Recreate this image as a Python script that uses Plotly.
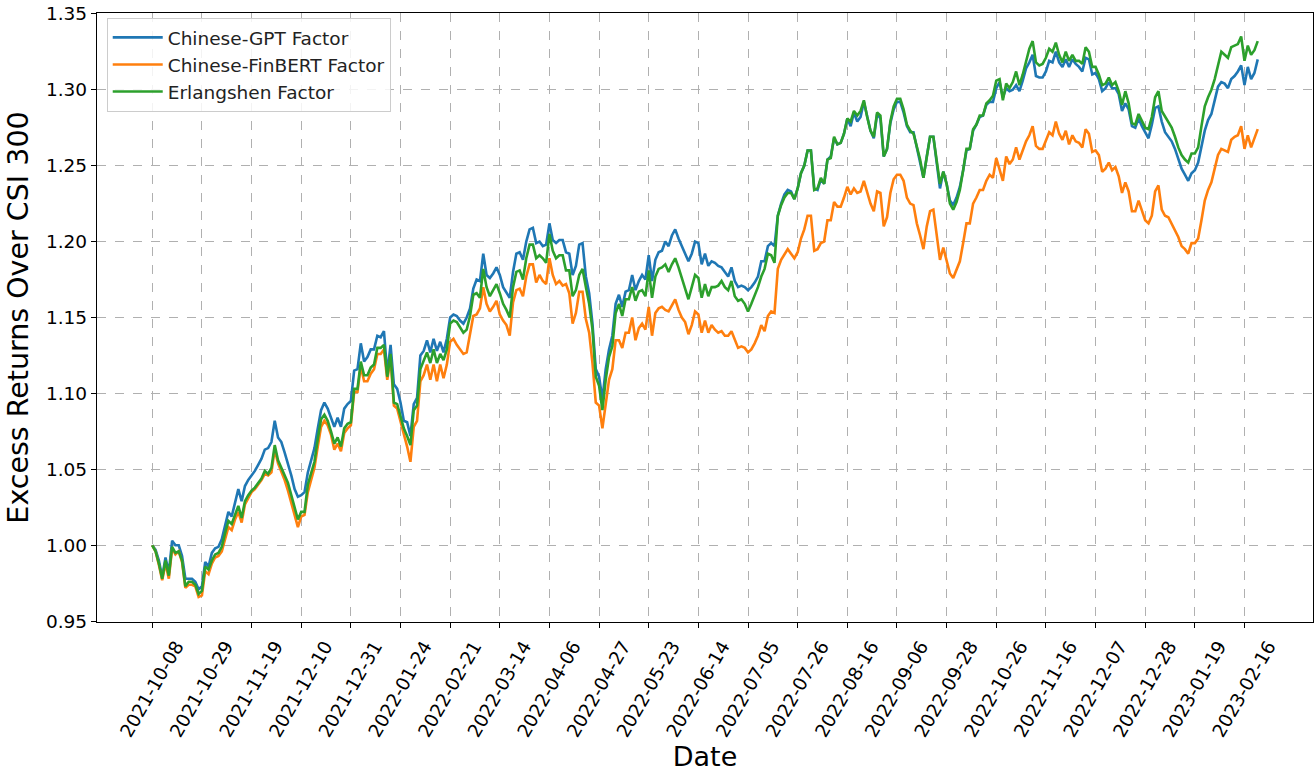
import plotly.graph_objects as go

# Trading-day index (0 = 2021-10-08), one value per trading day
day_index = list(range(335))

gpt_factor = [
1.000,0.997,0.990,0.979,0.992,0.982,1.003,1.000,1.000,0.993,
0.978,0.978,0.978,0.976,0.971,0.973,0.989,0.986,0.995,0.998,
0.999,1.004,1.013,1.022,1.019,1.028,1.037,1.029,1.039,1.043,
1.046,1.049,1.053,1.057,1.063,1.064,1.068,1.082,1.071,1.068,
1.061,1.054,1.046,1.037,1.032,1.033,1.035,1.048,1.057,1.064,
1.077,1.089,1.094,1.090,1.084,1.078,1.084,1.078,1.090,1.093,
1.095,1.115,1.116,1.133,1.121,1.124,1.129,1.129,1.138,1.137,
1.141,1.113,1.132,1.106,1.103,1.094,1.082,1.081,1.072,1.093,
1.097,1.125,1.128,1.135,1.127,1.136,1.128,1.134,1.127,1.136,
1.150,1.152,1.151,1.148,1.146,1.150,1.156,1.169,1.175,1.174,
1.192,1.178,1.176,1.179,1.183,1.178,1.170,1.166,1.163,1.180,
1.192,1.193,1.188,1.200,1.208,1.209,1.199,1.200,1.197,1.198,
1.212,1.201,1.199,1.201,1.201,1.193,1.192,1.178,1.184,1.198,
1.199,1.177,1.166,1.146,1.116,1.111,1.096,1.116,1.129,1.138,
1.159,1.165,1.157,1.167,1.168,1.178,1.168,1.174,1.178,1.175,
1.191,1.174,1.188,1.193,1.194,1.200,1.197,1.204,1.208,1.202,
1.197,1.192,1.187,1.192,1.200,1.199,1.185,1.192,1.184,1.187,
1.186,1.184,1.183,1.180,1.177,1.183,1.174,1.170,1.171,1.170,
1.168,1.170,1.173,1.177,1.187,1.187,1.197,1.199,1.197,1.217,
1.225,1.231,1.234,1.233,1.228,1.235,1.245,1.250,1.260,1.260,
1.235,1.234,1.241,1.238,1.254,1.256,1.268,1.264,1.265,1.271,
1.281,1.276,1.285,1.279,1.282,1.292,1.282,1.273,1.268,1.284,
1.281,1.256,1.261,1.278,1.287,1.292,1.292,1.285,1.276,1.272,
1.272,1.262,1.254,1.242,1.256,1.269,1.269,1.251,1.235,1.246,
1.238,1.227,1.224,1.229,1.236,1.247,1.260,1.261,1.273,1.277,
1.282,1.283,1.290,1.292,1.292,1.301,1.305,1.295,1.301,1.299,
1.300,1.303,1.299,1.306,1.314,1.318,1.323,1.309,1.308,1.308,
1.312,1.319,1.318,1.325,1.318,1.315,1.320,1.315,1.320,1.317,
1.315,1.312,1.321,1.320,1.310,1.311,1.307,1.299,1.301,1.305,
1.301,1.301,1.297,1.286,1.291,1.287,1.276,1.275,1.281,1.276,
1.272,1.268,1.277,1.288,1.289,1.279,1.272,1.269,1.266,1.261,
1.255,1.248,1.244,1.240,1.245,1.247,1.252,1.262,1.273,1.280,
1.284,1.293,1.302,1.305,1.304,1.301,1.307,1.309,1.312,1.316,
1.303,1.315,1.307,1.311,1.320]

finbert_factor = [
1.000,0.996,0.987,0.977,0.988,0.978,0.998,0.994,0.996,0.989,
0.972,0.974,0.974,0.973,0.966,0.967,0.983,0.981,0.988,0.992,
0.993,0.996,1.004,1.012,1.010,1.017,1.022,1.015,1.027,1.031,
1.035,1.037,1.040,1.043,1.047,1.046,1.048,1.063,1.054,1.049,
1.043,1.036,1.028,1.020,1.012,1.019,1.020,1.035,1.044,1.051,
1.065,1.078,1.082,1.079,1.073,1.063,1.067,1.062,1.074,1.077,
1.079,1.101,1.101,1.118,1.108,1.108,1.113,1.116,1.126,1.126,
1.129,1.109,1.123,1.092,1.090,1.082,1.074,1.065,1.055,1.078,
1.082,1.108,1.112,1.119,1.109,1.119,1.108,1.119,1.110,1.119,
1.134,1.136,1.132,1.129,1.126,1.127,1.138,1.151,1.152,1.156,
1.170,1.159,1.154,1.157,1.161,1.152,1.148,1.145,1.138,1.160,
1.168,1.169,1.164,1.177,1.185,1.185,1.173,1.178,1.174,1.172,
1.189,1.178,1.172,1.174,1.171,1.172,1.166,1.146,1.153,1.167,
1.167,1.149,1.140,1.120,1.094,1.092,1.077,1.094,1.109,1.116,
1.135,1.135,1.130,1.140,1.140,1.150,1.135,1.143,1.146,1.142,
1.157,1.138,1.153,1.156,1.157,1.155,1.154,1.158,1.162,1.155,
1.150,1.147,1.139,1.145,1.154,1.152,1.140,1.148,1.140,1.145,
1.142,1.140,1.141,1.138,1.138,1.141,1.135,1.130,1.131,1.130,
1.127,1.129,1.133,1.138,1.145,1.141,1.151,1.154,1.153,1.182,
1.188,1.192,1.195,1.192,1.189,1.193,1.202,1.208,1.217,1.217,
1.194,1.195,1.199,1.200,1.214,1.214,1.226,1.223,1.223,1.229,
1.236,1.231,1.235,1.232,1.233,1.240,1.232,1.225,1.220,1.233,
1.232,1.210,1.216,1.232,1.241,1.244,1.244,1.240,1.229,1.225,
1.224,1.212,1.204,1.195,1.210,1.220,1.221,1.205,1.188,1.196,
1.188,1.179,1.176,1.181,1.187,1.199,1.212,1.212,1.225,1.229,
1.234,1.234,1.240,1.244,1.242,1.255,1.247,1.240,1.256,1.251,
1.254,1.262,1.254,1.260,1.266,1.270,1.276,1.263,1.261,1.261,
1.267,1.272,1.270,1.279,1.271,1.267,1.273,1.264,1.270,1.266,
1.265,1.262,1.274,1.271,1.259,1.260,1.257,1.246,1.248,1.252,
1.247,1.249,1.243,1.232,1.239,1.233,1.220,1.220,1.227,1.220,
1.214,1.212,1.217,1.233,1.237,1.221,1.217,1.216,1.212,1.208,
1.203,1.197,1.195,1.192,1.199,1.199,1.202,1.214,1.227,1.234,
1.239,1.248,1.257,1.261,1.260,1.259,1.267,1.269,1.270,1.276,
1.261,1.270,1.262,1.268,1.274]

erlangshen_factor = [
1.000,0.996,0.988,0.978,0.990,0.980,0.999,0.995,0.996,0.990,
0.973,0.976,0.976,0.974,0.968,0.970,0.986,0.984,0.990,0.994,
0.995,0.999,1.008,1.016,1.014,1.020,1.026,1.018,1.029,1.033,
1.036,1.038,1.041,1.044,1.049,1.047,1.051,1.066,1.056,1.051,
1.046,1.041,1.033,1.024,1.017,1.022,1.022,1.040,1.048,1.055,
1.070,1.083,1.086,1.082,1.075,1.067,1.071,1.065,1.077,1.080,
1.081,1.103,1.103,1.121,1.112,1.112,1.117,1.119,1.130,1.130,
1.132,1.111,1.126,1.094,1.093,1.085,1.077,1.072,1.066,1.089,
1.092,1.116,1.121,1.127,1.120,1.129,1.120,1.126,1.122,1.129,
1.146,1.148,1.147,1.143,1.140,1.142,1.151,1.165,1.166,1.163,
1.182,1.170,1.164,1.168,1.172,1.166,1.159,1.155,1.150,1.170,
1.180,1.181,1.175,1.189,1.198,1.198,1.189,1.191,1.189,1.186,
1.205,1.194,1.189,1.191,1.191,1.181,1.181,1.164,1.168,1.178,
1.182,1.170,1.159,1.142,1.111,1.105,1.089,1.109,1.124,1.131,
1.153,1.159,1.151,1.162,1.162,1.170,1.161,1.167,1.168,1.164,
1.181,1.163,1.177,1.182,1.183,1.185,1.180,1.185,1.189,1.183,
1.176,1.170,1.162,1.170,1.178,1.176,1.163,1.172,1.164,1.170,
1.170,1.171,1.174,1.170,1.168,1.174,1.164,1.161,1.162,1.159,
1.154,1.159,1.164,1.170,1.177,1.182,1.192,1.191,1.186,1.217,
1.224,1.229,1.232,1.232,1.228,1.235,1.245,1.250,1.260,1.260,
1.234,1.235,1.242,1.238,1.254,1.255,1.269,1.264,1.265,1.271,
1.281,1.279,1.286,1.283,1.286,1.293,1.282,1.273,1.269,1.285,
1.283,1.256,1.261,1.279,1.289,1.294,1.294,1.287,1.277,1.273,
1.271,1.263,1.254,1.242,1.256,1.269,1.269,1.252,1.238,1.246,
1.238,1.225,1.221,1.226,1.234,1.247,1.261,1.261,1.274,1.277,
1.283,1.283,1.291,1.293,1.296,1.306,1.307,1.293,1.304,1.301,
1.305,1.312,1.303,1.310,1.319,1.327,1.332,1.318,1.316,1.317,
1.321,1.327,1.325,1.331,1.323,1.318,1.325,1.319,1.323,1.319,
1.319,1.317,1.328,1.325,1.315,1.315,1.310,1.303,1.304,1.308,
1.303,1.305,1.299,1.290,1.299,1.291,1.278,1.277,1.284,1.279,
1.275,1.274,1.282,1.295,1.299,1.286,1.282,1.279,1.275,1.269,
1.262,1.257,1.254,1.252,1.258,1.258,1.262,1.276,1.289,1.295,
1.300,1.307,1.317,1.325,1.323,1.321,1.328,1.329,1.330,1.335,
1.319,1.329,1.323,1.326,1.332]

tick_positions = [0, 15, 30, 45, 60, 75, 90, 105, 120, 135, 150, 165,
                  180, 195, 210, 225, 240, 255, 270, 285, 300, 315, 330]
tick_labels = ["2021-10-08", "2021-10-29", "2021-11-19", "2021-12-10",
               "2021-12-31", "2022-01-24", "2022-02-21", "2022-03-14",
               "2022-04-06", "2022-04-27", "2022-05-23", "2022-06-14",
               "2022-07-05", "2022-07-26", "2022-08-16", "2022-09-06",
               "2022-09-28", "2022-10-26", "2022-11-16", "2022-12-07",
               "2022-12-28", "2023-01-19", "2023-02-16"]
y_ticks = [0.95, 1.00, 1.05, 1.10, 1.15, 1.20, 1.25, 1.30, 1.35]

series = [
    ("Chinese-GPT Factor", gpt_factor, "#1f77b4"),
    ("Chinese-FinBERT Factor", finbert_factor, "#ff7f0e"),
    ("Erlangshen Factor", erlangshen_factor, "#2ca02c"),
]

FONT = "DejaVu Sans"
fig = go.Figure()
for name, vals, color in series:
    fig.add_trace(go.Scatter(x=day_index, y=vals, mode="lines", name=name,
                             line=dict(color=color, width=2.6)))

axis_common = dict(showline=True, linecolor="black", linewidth=1.3, mirror=True,
                   ticks="outside", ticklen=5, tickwidth=1.3, tickcolor="black",
                   showgrid=True, gridcolor="#b0b0b0", gridwidth=1.1, griddash="dash",
                   zeroline=False, automargin=False, ticklabeloverflow="allow",
                   tickfont=dict(family=FONT, size=18.5, color="black"))

fig.update_xaxes(range=[-16.7, 350.7], tickmode="array", tickvals=tick_positions,
                 ticktext=tick_labels, tickangle=-60, ticklabelshift=24,
                 title=dict(text="Date", font=dict(family=FONT, size=27, color="black"),
                            standoff=6),
                 **axis_common)
fig.update_yaxes(range=[0.9495, 1.3505], tickmode="array", tickvals=y_ticks,
                 ticktext=[f"{v:.2f}" for v in y_ticks],
                 title=dict(text="Excess Returns Over CSI 300",
                            font=dict(family=FONT, size=28.5, color="black"), standoff=8),
                 **axis_common)

fig.update_layout(
    width=1315, height=773,
    margin=dict(l=97, r=2, t=13, b=151),
    plot_bgcolor="white", paper_bgcolor="white",
    font=dict(family=FONT, color="black"),
    legend=dict(x=0.008, y=0.992, xanchor="left", yanchor="top",
                bgcolor="rgba(255,255,255,0.85)", bordercolor="#cccccc", borderwidth=1,
                font=dict(family=FONT, size=18.5, color="#222222"),
                itemwidth=50, tracegroupgap=0),
    showlegend=True,
)

# remove the browser's default page margin so the figure fills the window exactly
fig.write_html("out.html", config={"displayModeBar": False},
               post_script="document.body.style.margin='0';document.body.style.overflow='hidden';")
